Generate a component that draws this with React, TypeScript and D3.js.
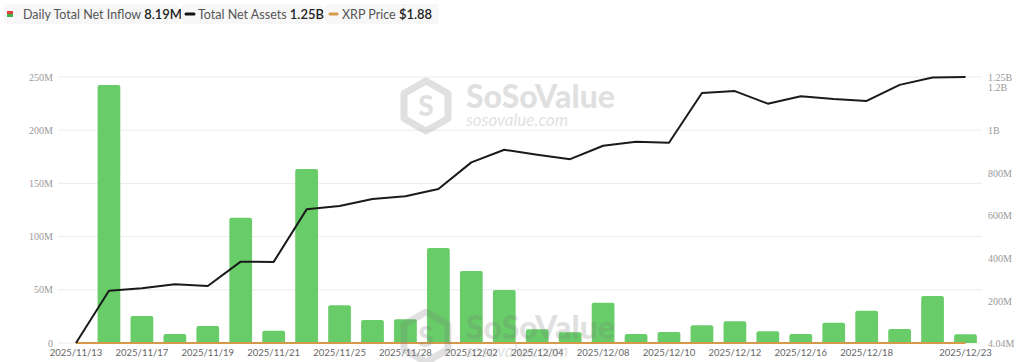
import * as d3 from 'd3';
import * as React from 'react';

// trading days shown on the x axis
const dates = [
  '2025/11/13', '2025/11/14', '2025/11/17', '2025/11/18', '2025/11/19', '2025/11/20', '2025/11/21',
  '2025/11/24', '2025/11/25', '2025/11/26', '2025/11/28', '2025/12/01', '2025/12/02', '2025/12/03',
  '2025/12/04', '2025/12/05', '2025/12/08', '2025/12/09', '2025/12/10', '2025/12/11', '2025/12/12',
  '2025/12/15', '2025/12/16', '2025/12/17', '2025/12/18', '2025/12/19', '2025/12/22', '2025/12/23',
];

// daily total net inflow, millions USD
const netInflow = [
  0, 242.5, 25.4, 8.5, 16, 117.8, 11.6, 163.5, 35.4, 21.6, 22.3, 89.3, 67.7, 49.8,
  12.9, 10.0, 37.9, 8.5, 10.3, 16.6, 20.4, 11, 8.5, 19.1, 30.4, 13.2, 44.2, 8.19,
];

// total net assets, millions USD
const netAssets = [
  4.04, 249, 260, 279, 271, 385, 384, 630, 646, 679, 691, 725, 850, 909,
  886, 865, 928, 947, 942, 1175, 1184, 1125, 1160, 1147, 1138, 1213, 1248, 1250,
];

// XRP price, USD
const xrpPrice = [
  2.42, 2.28, 2.25, 2.19, 2.15, 1.97, 1.95, 2.04, 2.24, 2.2, 2.19, 2.04, 2.18, 2.2,
  2.08, 2.03, 2.08, 2.05, 2.06, 2.02, 2.0, 1.92, 1.87, 1.92, 1.86, 1.91, 1.91, 1.88,
];

const leftTicks = [0, 50e6, 100e6, 150e6, 200e6, 250e6];
const rightTicks = [4.04e6, 200e6, 400e6, 600e6, 800e6, 1e9, 1.2e9, 1.25e9];

const W = 1024;
const H = 362;
const sans = 'Lato, "Noto Sans", sans-serif';
const serif = '"Liberation Serif", "DejaVu Serif", serif';

const fmt = (v: number) => {
  if (v === 0) return '0';
  if (v >= 1e9) return +(v / 1e9).toFixed(2) + 'B';
  return +(v / 1e6).toFixed(2) + 'M';
};

const Watermark = ({ y }: { y: number }) => (
  <g opacity={0.22} fill="#777">
    <g transform={`translate(426,${y - 1})`}>
      <path d="M0,-25 L22,-12.5 L22,12.5 L0,25 L-22,12.5 L-22,-12.5 Z" fill="none" stroke="#777" strokeWidth={7} strokeLinejoin="round" />
      <text textAnchor="middle" y={10} fontSize={28} fontWeight={900} fontFamily={sans}>S</text>
    </g>
    <text x={466} y={y + 1} fontSize={32} fontWeight={900} fontFamily={sans}>SoSoValue</text>
    <text x={466} y={y + 19} fontSize={17} fontStyle="italic" fontFamily={sans}>sosovalue.com</text>
  </g>
);

export default function App() {
  const x = d3.scalePoint<string>().domain(dates).range([76, 965.5]);
  const yL = d3.scaleLinear().domain([0, 250e6]).range([343, 77]);
  const yR = d3.scaleLinear().domain([4.04e6, 1.25e9]).range([343, 77]);
  const bw = x.step() * 0.69;

  const assetLine = d3.line<number>()
    .x((_, i) => x(dates[i]) as number)
    .y((d) => yR(d * 1e6));
  // price sits on its own hidden axis; at this scale it hugs the baseline
  const priceLine = d3.line<number>()
    .x((_, i) => x(dates[i]) as number)
    .y((d) => yL(d));

  const barPath = (cx: number, top: number, bottom: number) => {
    const r = Math.min(2, bottom - top);
    const l = cx - bw / 2;
    const rr = cx + bw / 2;
    return `M${l},${bottom}V${top + r}Q${l},${top} ${l + r},${top}H${rr - r}Q${rr},${top} ${rr},${top + r}V${bottom}Z`;
  };

  const xLabelIdx = dates.map((_, i) => i).filter((i) => (i % 2 === 0 && i < 26) || i === dates.length - 1);

  return (
    <svg width={W} height={H} style={{ position: 'absolute', left: 0, top: 0, background: '#fff' }}>
      {/* legend */}
      <g fontFamily={sans}>
        <rect x={4} y={4} width={175} height={20} rx={4} fill="#f7f7f7" />
        <rect x={7} y={11} width={6} height={3} fill="#e0433a" />
        <rect x={7} y={14} width={6} height={3} fill="#3fae49" />
        <text x={23} y={19} fontSize={12.5} fill="#555">
          Daily Total Net Inflow <tspan fill="#222" fontSize={13} fontWeight={600}>8.19M</tspan>
        </text>

        <rect x={181} y={4} width={141} height={20} rx={4} fill="#f7f7f7" />
        <line x1={186} x2={194} y1={14} y2={14} stroke="#111" strokeWidth={3} strokeLinecap="round" />
        <text x={198} y={19} fontSize={12.5} fill="#555">
          Total Net Assets <tspan fill="#222" fontSize={13} fontWeight={600}>1.25B</tspan>
        </text>

        <rect x={325} y={4} width={114} height={20} rx={4} fill="#f7f7f7" />
        <line x1={330} x2={337} y1={14} y2={14} stroke="#d49a4a" strokeWidth={3} strokeLinecap="round" />
        <text x={342} y={19} fontSize={12.5} fill="#555">
          XRP Price <tspan fill="#222" fontSize={13} fontWeight={600}>$1.88</tspan>
        </text>
      </g>

      {/* grid + left axis */}
      {leftTicks.map((t) => (
        <g key={t}>
          <line x1={58} x2={982} y1={yL(t)} y2={yL(t)} stroke="#ececec" />
          <text x={53} y={yL(t)} dy="0.35em" textAnchor="end" fontSize={10} fill="#999" fontFamily={serif}>
            {fmt(t)}
          </text>
        </g>
      ))}

      {/* right axis */}
      {rightTicks.map((t) => (
        <text key={t} x={988} y={yR(t)} dy="0.35em" fontSize={10} fill="#999" fontFamily={serif}>
          {fmt(t)}
        </text>
      ))}

      {/* bars */}
      {netInflow.map((v, i) =>
        v > 0 ? (
          <path key={dates[i]} d={barPath(x(dates[i]) as number, yL(v * 1e6), yL(0))} fill="#68cd68" />
        ) : null
      )}

      <path d={priceLine(xrpPrice) || ''} fill="none" stroke="#d49a4a" strokeWidth={2} />
      <path d={assetLine(netAssets) || ''} fill="none" stroke="#1a1a1a" strokeWidth={2} strokeLinejoin="round" />

      {/* x axis labels */}
      {xLabelIdx.map((i) => (
        <text key={dates[i]} x={x(dates[i])} y={356} textAnchor="middle" fontSize={9.5} fill="#666" fontFamily={sans}>
          {dates[i]}
        </text>
      ))}

      <Watermark y={107} />
      <Watermark y={338} />
    </svg>
  );
}
